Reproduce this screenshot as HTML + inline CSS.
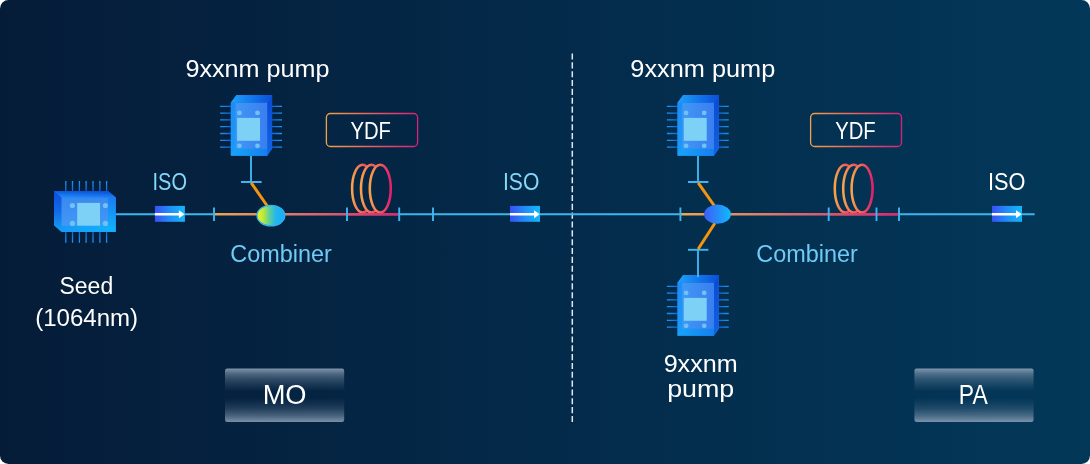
<!DOCTYPE html>
<html><head><meta charset="utf-8">
<style>
html,body{margin:0;padding:0;background:#fff;}
body{width:1090px;height:464px;overflow:hidden;font-family:"Liberation Sans",sans-serif;}
svg{display:block;will-change:transform;}
text{font-family:"Liberation Sans",sans-serif;}
</style></head>
<body>
<svg width="1090" height="464" viewBox="0 0 1090 464">
<defs>
  <linearGradient id="bg" gradientUnits="userSpaceOnUse" x1="0" y1="0" x2="1090" y2="0">
    <stop offset="0" stop-color="#051c38"/>
    <stop offset="0.5" stop-color="#042a4a"/>
    <stop offset="1" stop-color="#033859"/>
  </linearGradient>
  <linearGradient id="iso" x1="0" y1="0" x2="1" y2="0">
    <stop offset="0" stop-color="#3a4ff5"/>
    <stop offset="0.5" stop-color="#208ef7"/>
    <stop offset="1" stop-color="#12b8fb"/>
  </linearGradient>
  <linearGradient id="comb1" x1="0" y1="0" x2="1" y2="0">
    <stop offset="0" stop-color="#f0f410"/>
    <stop offset="0.2" stop-color="#c6ea32"/>
    <stop offset="0.45" stop-color="#5ccf9c"/>
    <stop offset="0.68" stop-color="#24b6ec"/>
    <stop offset="1" stop-color="#14b0fc"/>
  </linearGradient>
  <linearGradient id="comb2" x1="0" y1="0" x2="1" y2="0">
    <stop offset="0" stop-color="#3c5df8"/>
    <stop offset="1" stop-color="#0fbafc"/>
  </linearGradient>
  <linearGradient id="fiber1" gradientUnits="userSpaceOnUse" x1="214" y1="0" x2="400" y2="0">
    <stop offset="0" stop-color="#f7a640"/>
    <stop offset="0.25" stop-color="#f08a58"/>
    <stop offset="1" stop-color="#e0246f"/>
  </linearGradient>
  <linearGradient id="fiber2" gradientUnits="userSpaceOnUse" x1="681" y1="0" x2="899" y2="0">
    <stop offset="0" stop-color="#f7a640"/>
    <stop offset="0.25" stop-color="#f08a58"/>
    <stop offset="1" stop-color="#e0246f"/>
  </linearGradient>
  <linearGradient id="ydfbox" x1="0" y1="0" x2="1" y2="0">
    <stop offset="0" stop-color="#f3a245"/>
    <stop offset="1" stop-color="#dc1f78"/>
  </linearGradient>
  <linearGradient id="coilg" x1="0" y1="0" x2="1" y2="0">
    <stop offset="0" stop-color="#f8a24a"/>
    <stop offset="1" stop-color="#e41f6c"/>
  </linearGradient>
  <linearGradient id="btn" x1="0" y1="0" x2="0" y2="1">
    <stop offset="0" stop-color="#8a9eb4" stop-opacity="0.92"/>
    <stop offset="0.1" stop-color="#8499b0" stop-opacity="0.57"/>
    <stop offset="0.2" stop-color="#8499b0" stop-opacity="0.33"/>
    <stop offset="0.3" stop-color="#8499b0" stop-opacity="0.17"/>
    <stop offset="0.42" stop-color="#8499b0" stop-opacity="0"/>
    <stop offset="0.55" stop-color="#8499b0" stop-opacity="0"/>
    <stop offset="0.65" stop-color="#8499b0" stop-opacity="0.1"/>
    <stop offset="0.75" stop-color="#8499b0" stop-opacity="0.23"/>
    <stop offset="0.87" stop-color="#8499b0" stop-opacity="0.5"/>
    <stop offset="1" stop-color="#8a9eb4" stop-opacity="0.88"/>
  </linearGradient>
  <linearGradient id="ptop" x1="0" y1="0" x2="1" y2="0">
    <stop offset="0" stop-color="#1da2fa"/>
    <stop offset="0.55" stop-color="#1273ea"/>
    <stop offset="1" stop-color="#0a50d8"/>
  </linearGradient>
  <linearGradient id="pright" x1="0" y1="0" x2="0" y2="1">
    <stop offset="0" stop-color="#0a48d4"/>
    <stop offset="1" stop-color="#1064e4"/>
  </linearGradient>
  <linearGradient id="pfront" x1="0" y1="0" x2="0" y2="1">
    <stop offset="0" stop-color="#1e8cf5"/>
    <stop offset="1" stop-color="#1a9cf8"/>
  </linearGradient>
  <linearGradient id="pinner" x1="0" y1="0" x2="1" y2="0">
    <stop offset="0" stop-color="#4197f4"/>
    <stop offset="1" stop-color="#3a7ef0"/>
  </linearGradient>
  <linearGradient id="pbottom" x1="0" y1="0" x2="1" y2="0">
    <stop offset="0" stop-color="#16a6fa"/>
    <stop offset="1" stop-color="#167ef0"/>
  </linearGradient>
  <linearGradient id="pinL" gradientUnits="userSpaceOnUse" x1="-10.6" y1="0" x2="1" y2="0">
    <stop offset="0" stop-color="#1a96f6"/>
    <stop offset="1" stop-color="#0f62d8"/>
  </linearGradient>
  <linearGradient id="pinR" gradientUnits="userSpaceOnUse" x1="40" y1="0" x2="51.2" y2="0">
    <stop offset="0" stop-color="#0f62d8"/>
    <stop offset="1" stop-color="#1a96f6"/>
  </linearGradient>
  <linearGradient id="pinT" gradientUnits="userSpaceOnUse" x1="0" y1="181" x2="0" y2="192">
    <stop offset="0" stop-color="#1a96f6"/>
    <stop offset="1" stop-color="#0f62d8"/>
  </linearGradient>
  <linearGradient id="pinB" gradientUnits="userSpaceOnUse" x1="0" y1="231" x2="0" y2="242.8">
    <stop offset="0" stop-color="#0f62d8"/>
    <stop offset="1" stop-color="#1a96f6"/>
  </linearGradient>
  <linearGradient id="stop" x1="0.2" y1="1" x2="0.5" y2="0">
    <stop offset="0" stop-color="#1c8ef6"/>
    <stop offset="1" stop-color="#0d50dc"/>
  </linearGradient>
  <linearGradient id="sleft" x1="0" y1="0" x2="0" y2="1">
    <stop offset="0" stop-color="#0d4edc"/>
    <stop offset="0.5" stop-color="#126ae8"/>
    <stop offset="1" stop-color="#15a2f9"/>
  </linearGradient>
  <linearGradient id="sfront" x1="0" y1="0" x2="0" y2="1">
    <stop offset="0" stop-color="#1b7cf2"/>
    <stop offset="1" stop-color="#10b6fb"/>
  </linearGradient>
  <linearGradient id="sinner" x1="0" y1="0" x2="0" y2="1">
    <stop offset="0" stop-color="#3a88f1"/>
    <stop offset="1" stop-color="#4299f4"/>
  </linearGradient>
  <linearGradient id="sbottom" x1="0" y1="0" x2="1" y2="0">
    <stop offset="0" stop-color="#1898f7"/>
    <stop offset="1" stop-color="#10b4fb"/>
  </linearGradient>
</defs>

<rect x="0" y="0" width="1090" height="464" rx="8.5" ry="8.5" fill="url(#bg)"/>

<!-- dashed divider -->
<line x1="572.3" y1="53.5" x2="572.3" y2="421.9" stroke="#e2e7ed" stroke-width="1.5" stroke-dasharray="6.1 2.74"/>

<!-- main line -->
<line x1="115" y1="214.2" x2="1034.6" y2="214.2" stroke="#3db6ef" stroke-width="1.9"/>

<!-- fiber gradient segments -->
<rect x="214" y="213.05" width="186" height="2.3" fill="url(#fiber1)"/>
<rect x="681" y="213.05" width="218" height="2.3" fill="url(#fiber2)"/>

<!-- pump stems -->
<g stroke="#3db6ef" stroke-width="1.9" fill="none">
  <path d="M251 156V182 M241 182H261.6"/>
  <path d="M698 156V182 M688 182H708.4"/>
  <path d="M688 249.8H708.4"/>
</g>
<g stroke="#f3950f" stroke-width="3">
  <path d="M251.2 182.8L268 207"/>
  <path d="M698.2 182.8L714.5 206"/>
  <path d="M698.2 249L715 223"/>
</g>

<!-- coils -->
<ellipse cx="362.6" cy="188.6" rx="10.5" ry="23.85" fill="url(#bg)" stroke="url(#coilg)" stroke-width="2.55"/>
<ellipse cx="371.5" cy="188.6" rx="10.5" ry="23.85" fill="url(#bg)" stroke="url(#coilg)" stroke-width="2.55"/>
<ellipse cx="380.3" cy="188.6" rx="10.5" ry="23.85" fill="url(#bg)" stroke="url(#coilg)" stroke-width="2.55"/>
<ellipse cx="845.3" cy="188.6" rx="10.5" ry="23.85" fill="url(#bg)" stroke="url(#coilg)" stroke-width="2.55"/>
<ellipse cx="853.7" cy="188.6" rx="10.5" ry="23.85" fill="url(#bg)" stroke="url(#coilg)" stroke-width="2.55"/>
<ellipse cx="862.1" cy="188.6" rx="10.5" ry="23.85" fill="url(#bg)" stroke="url(#coilg)" stroke-width="2.55"/>
<!-- redraw fiber under coils (over fills) -->
<rect x="347" y="213.05" width="53" height="2.3" fill="url(#fiber1)"/>
<rect x="828" y="213.05" width="71" height="2.3" fill="url(#fiber2)"/>

<!-- ticks -->
<g stroke="#3db6ef" stroke-width="1.9">
  <path d="M214 207.4V221 M347 207.4V221 M399.2 207.4V221 M433 207.4V221"/>
  <path d="M680.4 207.4V221 M828.7 207.4V221 M876.5 207.4V221 M899 207.4V221"/>
</g>

<!-- combiners -->
<ellipse cx="270.9" cy="215.6" rx="13.9" ry="10.3" fill="url(#comb1)" stroke="#34b2f0" stroke-width="1.3"/>
<ellipse cx="717.5" cy="214.2" rx="13.4" ry="9.6" fill="url(#comb2)"/>

<!-- YDF boxes -->
<rect x="326.4" y="113.5" width="91.2" height="33" rx="4" fill="none" stroke="url(#ydfbox)" stroke-width="1.3"/>
<rect x="810.6" y="113.5" width="90.9" height="33" rx="4" fill="none" stroke="url(#ydfbox)" stroke-width="1.3"/>

<!-- ISOs -->
<rect x="154.9" y="205.9" width="30" height="15.9" fill="url(#iso)"/><path d="M154.9 212.95H178.9V210.2L184.70000000000002 214.2L178.9 218.2V215.45H154.9Z" fill="#fff"/>
<rect x="510" y="205.9" width="30" height="15.9" fill="url(#iso)"/><path d="M510 212.95H534V210.2L539.8 214.2L534 218.2V215.45H510Z" fill="#fff"/>
<rect x="992" y="205.9" width="30" height="15.9" fill="url(#iso)"/><path d="M992 212.95H1016V210.2L1021.8 214.2L1016 218.2V215.45H992Z" fill="#fff"/>

<!-- pumps -->
<g transform="translate(230.8,95)">
<path stroke="url(#pinL)" stroke-width="1.3" d="M-10.6 11.3H1 M-10.6 18.1H1 M-10.6 24.8H1 M-10.6 31.7H1 M-10.6 38.5H1 M-10.6 45.3H1 M-10.6 52.1H1"/>
<path stroke="url(#pinR)" stroke-width="1.3" d="M40 11.3H51.2 M40 18.1H51.2 M40 24.8H51.2 M40 31.7H51.2 M40 38.5H51.2 M40 45.3H51.2 M40 52.1H51.2"/>
<polygon points="0,7.8 5.6,0 41.3,0 41.3,53.8 36.5,60.6 0,60.6" fill="#1478ec"/>
<rect x="0" y="7.8" width="36.5" height="52.8" fill="url(#pfront)"/>
<rect x="4.8" y="7.8" width="31.7" height="46" fill="url(#pinner)"/>
<polygon points="0,60.6 4.8,53.8 36.5,53.8 36.5,60.6" fill="url(#pbottom)"/>
<polygon points="0,7.8 5.6,0 41.3,0 36.5,7.8" fill="url(#ptop)"/>
<polygon points="36.5,7.8 41.3,0 41.3,53.8 36.5,60.6" fill="url(#pright)"/>
<rect x="6.3" y="22.9" width="22.9" height="22.9" fill="#7dd1f6"/>
<circle cx="8.6" cy="17.9" r="2.4" fill="#6fc2f6"/>
<circle cx="26.7" cy="17.9" r="2.4" fill="#6fc2f6"/>
<circle cx="8.6" cy="50.8" r="2.4" fill="#6fc2f6"/>
<circle cx="26.7" cy="50.8" r="2.4" fill="#6fc2f6"/>
</g>
<g transform="translate(677.5,95)">
<path stroke="url(#pinL)" stroke-width="1.3" d="M-10.6 11.3H1 M-10.6 18.1H1 M-10.6 24.8H1 M-10.6 31.7H1 M-10.6 38.5H1 M-10.6 45.3H1 M-10.6 52.1H1"/>
<path stroke="url(#pinR)" stroke-width="1.3" d="M40 11.3H51.2 M40 18.1H51.2 M40 24.8H51.2 M40 31.7H51.2 M40 38.5H51.2 M40 45.3H51.2 M40 52.1H51.2"/>
<polygon points="0,7.8 5.6,0 41.3,0 41.3,53.8 36.5,60.6 0,60.6" fill="#1478ec"/>
<rect x="0" y="7.8" width="36.5" height="52.8" fill="url(#pfront)"/>
<rect x="4.8" y="7.8" width="31.7" height="46" fill="url(#pinner)"/>
<polygon points="0,60.6 4.8,53.8 36.5,53.8 36.5,60.6" fill="url(#pbottom)"/>
<polygon points="0,7.8 5.6,0 41.3,0 36.5,7.8" fill="url(#ptop)"/>
<polygon points="36.5,7.8 41.3,0 41.3,53.8 36.5,60.6" fill="url(#pright)"/>
<rect x="6.3" y="22.9" width="22.9" height="22.9" fill="#7dd1f6"/>
<circle cx="8.6" cy="17.9" r="2.4" fill="#6fc2f6"/>
<circle cx="26.7" cy="17.9" r="2.4" fill="#6fc2f6"/>
<circle cx="8.6" cy="50.8" r="2.4" fill="#6fc2f6"/>
<circle cx="26.7" cy="50.8" r="2.4" fill="#6fc2f6"/>
</g>
<g transform="translate(677.5,275)">
<path stroke="url(#pinL)" stroke-width="1.3" d="M-10.6 11.3H1 M-10.6 18.1H1 M-10.6 24.8H1 M-10.6 31.7H1 M-10.6 38.5H1 M-10.6 45.3H1 M-10.6 52.1H1"/>
<path stroke="url(#pinR)" stroke-width="1.3" d="M40 11.3H51.2 M40 18.1H51.2 M40 24.8H51.2 M40 31.7H51.2 M40 38.5H51.2 M40 45.3H51.2 M40 52.1H51.2"/>
<polygon points="0,7.8 5.6,0 41.3,0 41.3,53.8 36.5,60.6 0,60.6" fill="#1478ec"/>
<rect x="0" y="7.8" width="36.5" height="52.8" fill="url(#pfront)"/>
<rect x="4.8" y="7.8" width="31.7" height="46" fill="url(#pinner)"/>
<polygon points="0,60.6 4.8,53.8 36.5,53.8 36.5,60.6" fill="url(#pbottom)"/>
<polygon points="0,7.8 5.6,0 41.3,0 36.5,7.8" fill="url(#ptop)"/>
<polygon points="36.5,7.8 41.3,0 41.3,53.8 36.5,60.6" fill="url(#pright)"/>
<rect x="6.3" y="22.9" width="22.9" height="22.9" fill="#7dd1f6"/>
<circle cx="8.6" cy="17.9" r="2.4" fill="#6fc2f6"/>
<circle cx="26.7" cy="17.9" r="2.4" fill="#6fc2f6"/>
<circle cx="8.6" cy="50.8" r="2.4" fill="#6fc2f6"/>
<circle cx="26.7" cy="50.8" r="2.4" fill="#6fc2f6"/>
</g>

<line x1="698" y1="249.8" x2="698" y2="277.3" stroke="#3db6ef" stroke-width="1.9"/>
<!-- seed chip -->
<g>
<path stroke="url(#pinT)" stroke-width="1.3" d="M65.8 181V192 M72.5 181V192 M79.4 181V192 M86.1 181V192 M93 181V192 M99.9 181V192 M106.6 181V192"/>
<path stroke="url(#pinB)" stroke-width="1.3" d="M65.8 231V242.8 M72.5 231V242.8 M79.4 231V242.8 M86.1 231V242.8 M93 231V242.8 M99.9 231V242.8 M106.6 231V242.8"/>
<polygon points="54,191 108,191 115.8,197.4 115.8,231.8 61.4,231.8 54,225.3" fill="#1478ec"/>
<rect x="61.4" y="197.4" width="54.4" height="34.4" fill="url(#sfront)"/>
<rect x="61.4" y="197.4" width="46.6" height="28.3" fill="url(#sinner)"/>
<polygon points="61.4,231.8 61.4,225.7 108,225.7 115.8,231.8" fill="url(#sbottom)"/>
<polygon points="54,191 108,191 115.8,197.4 61.4,197.4" fill="url(#stop)"/>
<polygon points="54,191 61.4,197.4 61.4,231.8 54,225.3" fill="url(#sleft)"/>
<rect x="77.2" y="202.9" width="22.8" height="22.8" fill="#7dd1f6"/>
<circle cx="72.4" cy="205.5" r="2.6" fill="#6fc2f6"/>
<circle cx="105.4" cy="205.5" r="2.6" fill="#6fc2f6"/>
<circle cx="72.4" cy="223.4" r="2.6" fill="#6fc2f6"/>
<circle cx="105.4" cy="223.4" r="2.6" fill="#6fc2f6"/>
</g>

<!-- buttons -->
<rect x="225" y="368.6" width="119.2" height="53.4" rx="2.2" fill="url(#btn)"/>
<rect x="914.4" y="368.6" width="119.2" height="53.4" rx="2.2" fill="url(#btn)"/>

<!-- text -->
<g opacity="0.999">
<text id="t0" x="185.43" y="76.70" font-size="23.5" fill="#ffffff" textLength="144.13" lengthAdjust="spacingAndGlyphs">9xxnm pump</text>
<text id="t1" x="630.33" y="76.70" font-size="23.5" fill="#ffffff" textLength="144.90" lengthAdjust="spacingAndGlyphs">9xxnm pump</text>
<text id="t2" x="350.46" y="139.00" font-size="23.0" fill="#ffffff" textLength="40.45" lengthAdjust="spacingAndGlyphs">YDF</text>
<text id="t3" x="835.20" y="139.00" font-size="23.0" fill="#ffffff" textLength="40.53" lengthAdjust="spacingAndGlyphs">YDF</text>
<text id="t4" x="152.55" y="189.60" font-size="23.3" fill="#86d7f9" textLength="34.42" lengthAdjust="spacingAndGlyphs">ISO</text>
<text id="t5" x="502.98" y="189.60" font-size="23.3" fill="#86d7f9" textLength="36.33" lengthAdjust="spacingAndGlyphs">ISO</text>
<text id="t6" x="987.90" y="189.50" font-size="23.3" fill="#ffffff" textLength="37.47" lengthAdjust="spacingAndGlyphs">ISO</text>
<text id="t7" x="230.33" y="262.20" font-size="23.5" fill="#6fcbf5" textLength="101.56" lengthAdjust="spacingAndGlyphs">Combiner</text>
<text id="t8" x="756.33" y="262.20" font-size="23.5" fill="#6fcbf5" textLength="101.56" lengthAdjust="spacingAndGlyphs">Combiner</text>
<text id="t9" x="59.53" y="294.40" font-size="23.3" fill="#ffffff" textLength="53.68" lengthAdjust="spacingAndGlyphs">Seed</text>
<text id="t10" x="35.20" y="326.00" font-size="23.3" fill="#ffffff" textLength="102.96" lengthAdjust="spacingAndGlyphs">(1064nm)</text>
<text id="t11" x="663.65" y="371.60" font-size="23.5" fill="#ffffff" textLength="74.00" lengthAdjust="spacingAndGlyphs">9xxnm</text>
<text id="t12" x="667.16" y="397.00" font-size="23.5" fill="#ffffff" textLength="67.10" lengthAdjust="spacingAndGlyphs">pump</text>
<text id="t13" x="262.65" y="404.00" font-size="26.8" fill="#ffffff" textLength="43.91" lengthAdjust="spacingAndGlyphs">MO</text>
<text id="t14" x="958.84" y="404.00" font-size="26.8" fill="#ffffff" textLength="28.85" lengthAdjust="spacingAndGlyphs">PA</text>
</g>
</svg>
</body></html>
